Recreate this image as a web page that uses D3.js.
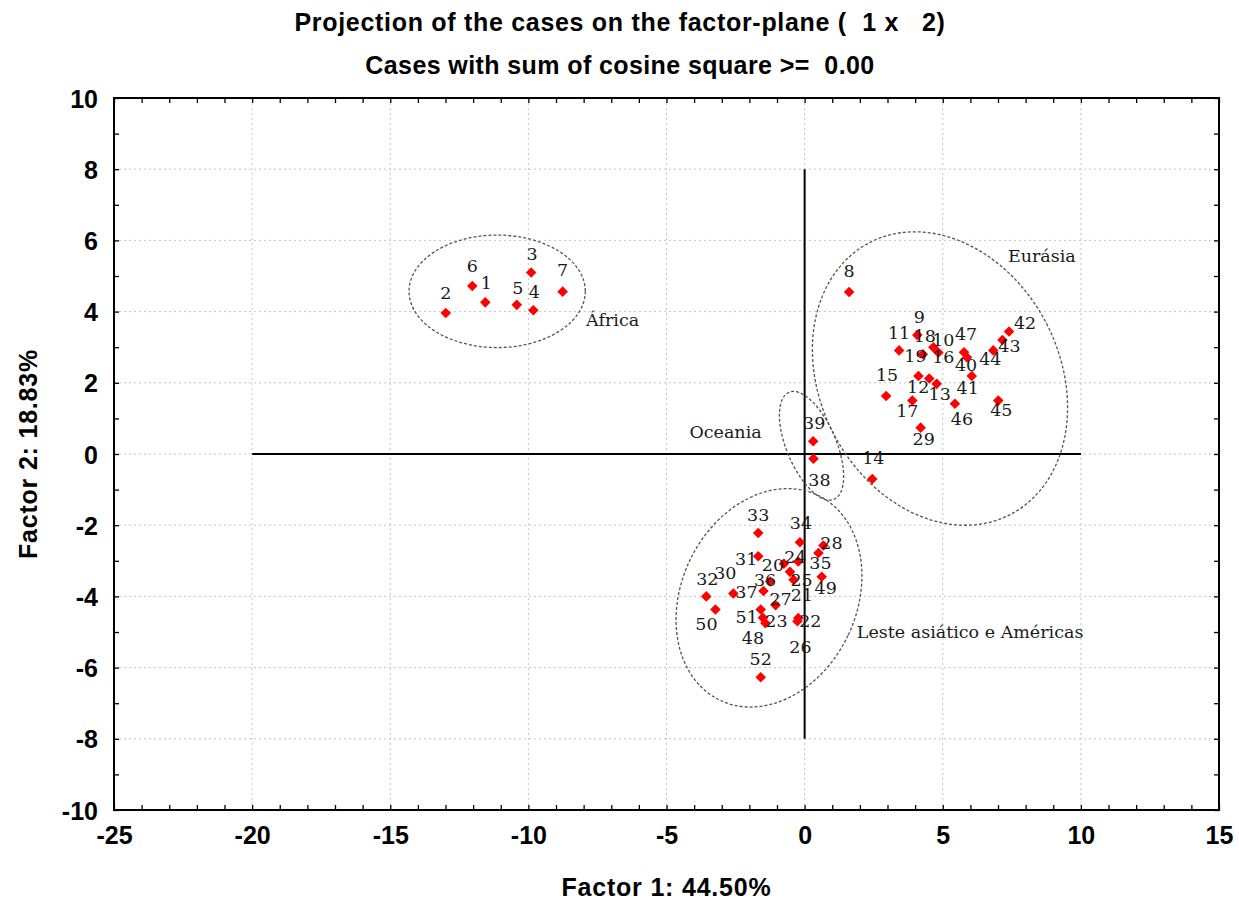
<!DOCTYPE html>
<html>
<head>
<meta charset="utf-8">
<script src="https://cdn.jsdelivr.net/npm/d3@7"></script>
<style>
  html, body { margin: 0; padding: 0; background: #fff; }
  svg { display: block; }
</style>
</head>
<body>
<svg id="chart" width="1239" height="905"></svg>
<script>
// ---------------- DATA ----------------
const titleText = "Projection of the cases on the factor-plane (  1 x   2)";
const subtitleText = "Cases with sum of cosine square >=  0.00";
const xAxisTitle = "Factor 1: 44.50%";
const yAxisTitle = "Factor 2: 18.83%";

const caseIds = d3.range(1, 53);
const factor1 = [
  -11.56, -12.99, -9.90, -9.82, -10.42, -12.03, -8.76,      // 1-7
  1.61, 4.08, 4.66, 3.42, 4.51, 4.78, 2.45, 2.95, 4.84,     // 8-16
  3.90, 4.28, 4.12,                                          // 17-19
  -0.75, -0.53, -0.23, -1.42, -0.23, -0.40, -0.26, -1.05,   // 20-27
  0.68, 4.20, -2.58, -1.68, -3.56, -1.68, -0.17, 0.50,      // 28-35
  -1.25, -1.49, 0.32, 0.31,                                  // 36-39
  5.88, 6.05, 7.40, 7.16, 6.83, 7.01, 5.44, 5.77,           // 40-47
  -1.51, 0.62, -3.23, -1.59, -1.59                           // 48-52
];
const factor2 = [
  4.26, 3.96, 5.10, 4.04, 4.19, 4.72, 4.56,
  4.55, 3.34, 3.00, 2.91, 2.12, 1.97, -0.70, 1.63, 2.85,
  1.50, 2.80, 2.19,
  -3.08, -3.31, -4.61, -4.75, -3.02, -3.53, -4.70, -4.25,
  -2.57, 0.74, -3.92, -2.87, -4.00, -2.22, -2.48, -2.78,
  -3.58, -3.85, -0.13, 0.36,
  2.71, 2.19, 3.44, 3.20, 2.91, 1.50, 1.41, 2.86,
  -4.60, -3.45, -4.37, -4.37, -6.27
];

const xTickLabels = [-25, -20, -15, -10, -5, 0, 5, 10, 15];
const yTickLabels = [-10, -8, -6, -4, -2, 0, 2, 4, 6, 8, 10];

// group annotations (data units)
const groupNames = ["África", "Eurásia", "Oceania", "Leste asiático e Américas"];
const groupCx = [-11.13, 4.90, 0.25, -1.29];
const groupCy = [4.57, 2.12, 0.23, -4.04];
const groupRx = [3.19, 4.34, 0.90, 3.17];
const groupRy = [1.58, 4.30, 1.63, 3.19];
const groupAngle = [0, -27.3, -22.8, 25.5];
const groupLabelX = [-7.91, 7.36, -4.17, 1.89];
const groupLabelY = [3.76, 5.56, 0.62, -4.98];

// ---------------- LAYOUT ----------------
// label offsets (pixels) for each case label, relative to its marker
const labelOffsets = {
  1:[1,-20], 2:[0,-20], 3:[1,-19], 4:[1,-18], 5:[1,-17], 6:[0,-20], 7:[0,-22],
  8:[0,-21], 9:[2,-18], 10:[10,-8], 11:[0,-18], 12:[-11,8], 13:[3,10], 14:[1,-21],
  15:[1,-21], 16:[5,4], 17:[-5,10], 18:[2,-19], 19:[-3,-20],
  20:[-11,1], 21:[12,23], 22:[12,3], 23:[11,-2], 24:[-3,-5], 25:[8,0], 26:[3,25],
  27:[5,-7], 28:[8,-3], 29:[3,11], 30:[-8,-21], 31:[-12,3], 32:[1,-18], 33:[0,-18],
  34:[1,-20], 35:[2,10], 36:[-5,-2], 37:[-17,1], 38:[6,21], 39:[1,-18],
  40:[-1,7], 41:[-4,12], 42:[16,-9], 43:[7,6], 44:[-3,8], 45:[3,9], 46:[7,15], 47:[2,-18],
  48:[-10,20], 49:[4,11], 50:[-9,14], 51:[-14,7], 52:[0,-19]
};

const plot = { left: 114, right: 1219, top: 98, bottom: 810 };
const sansFont = "'Liberation Sans', Arial, sans-serif";
const serifFont = "'DejaVu Serif', serif";
const labelSize = 17.5;

const svg = d3.select("#chart");
const x = d3.scaleLinear().domain([-25, 15]).range([plot.left, plot.right]);
const y = d3.scaleLinear().domain([-10, 10]).range([plot.bottom, plot.top]);

// gridlines (dotted)
const grid = svg.append("g").attr("stroke", "#c4c4c4").attr("stroke-width", 1)
  .attr("stroke-dasharray", "2,3");
grid.selectAll("line.gx").data(xTickLabels.filter(v => v > -25 && v < 15)).join("line")
  .attr("x1", d => x(d)).attr("x2", d => x(d))
  .attr("y1", plot.top).attr("y2", plot.bottom);
grid.selectAll("line.gy").data(yTickLabels.filter(v => v > -10 && v < 10)).join("line")
  .attr("x1", plot.left).attr("x2", plot.right)
  .attr("y1", d => y(d)).attr("y2", d => y(d));

// minor ticks, inward, on all four sides
const xMinor = d3.range(-25, 16);
const yMinor = d3.range(-10, 11);
const tickLen = 5;
function noLabelAxis(axis) { return axis.tickSizeOuter(0).tickFormat(""); }
svg.append("g").attr("transform", `translate(0,${plot.bottom})`)
  .call(noLabelAxis(d3.axisBottom(x).tickValues(xMinor).tickSizeInner(-tickLen)));
svg.append("g").attr("transform", `translate(0,${plot.top})`)
  .call(noLabelAxis(d3.axisTop(x).tickValues(xMinor).tickSizeInner(-tickLen)));
svg.append("g").attr("transform", `translate(${plot.left},0)`)
  .call(noLabelAxis(d3.axisLeft(y).tickValues(yMinor).tickSizeInner(-tickLen)));
svg.append("g").attr("transform", `translate(${plot.right},0)`)
  .call(noLabelAxis(d3.axisRight(y).tickValues(yMinor).tickSizeInner(-tickLen)));
svg.selectAll(".domain").remove();
svg.selectAll(".tick line").attr("stroke", "#000").attr("stroke-width", 1.3);

// tick labels (plain hyphen for negatives, as in the reference)
const fmt = d => String(d);
const xLab = svg.append("g").attr("transform", `translate(0,${plot.bottom + 16})`)
  .call(d3.axisBottom(x).tickValues(xTickLabels).tickSize(0).tickPadding(0).tickFormat(fmt));
xLab.select(".domain").remove();
xLab.selectAll("text").attr("font-family", sansFont).attr("font-weight", "bold")
  .attr("font-size", 25).attr("fill", "#000").attr("dy", "0.71em");

const yLab = svg.append("g").attr("transform", `translate(${plot.left - 16},0)`)
  .call(d3.axisLeft(y).tickValues(yTickLabels).tickSize(0).tickPadding(0).tickFormat(fmt));
yLab.select(".domain").remove();
yLab.selectAll("text").attr("font-family", sansFont).attr("font-weight", "bold")
  .attr("font-size", 25).attr("fill", "#000").attr("dy", "0.36em");

// frame
svg.append("rect").attr("x", plot.left).attr("y", plot.top)
  .attr("width", plot.right - plot.left).attr("height", plot.bottom - plot.top)
  .attr("fill", "none").attr("stroke", "#000").attr("stroke-width", 2);

// factor-plane reference lines
svg.append("line").attr("x1", x(-20)).attr("x2", x(10)).attr("y1", y(0)).attr("y2", y(0))
  .attr("stroke", "#000").attr("stroke-width", 2);
svg.append("line").attr("x1", x(0)).attr("x2", x(0)).attr("y1", y(8)).attr("y2", y(-8))
  .attr("stroke", "#000").attr("stroke-width", 2);

// group ellipses
const unitX = x(1) - x(0), unitY = y(0) - y(1);
svg.append("g").selectAll("ellipse").data(groupNames).join("ellipse")
  .attr("cx", 0).attr("cy", 0)
  .attr("rx", (d, i) => groupRx[i] * unitX)
  .attr("ry", (d, i) => groupRy[i] * unitY)
  .attr("transform", (d, i) => `translate(${x(groupCx[i])},${y(groupCy[i])}) rotate(${groupAngle[i]})`)
  .attr("fill", "none").attr("stroke", "#555").attr("stroke-width", 1.3)
  .attr("stroke-dasharray", "3,2");

// group labels
svg.append("g").selectAll("text").data(groupNames).join("text")
  .attr("x", (d, i) => x(groupLabelX[i]))
  .attr("y", (d, i) => y(groupLabelY[i]))
  .attr("dy", "0.36em")
  .attr("font-family", serifFont).attr("font-size", labelSize).attr("fill", "#1a1a1a")
  .text(d => d);

// points
const cases = caseIds.map((id, i) => ({ id, f1: factor1[i], f2: factor2[i] }));
const diamond = d3.symbol().type(d3.symbolSquare).size(56);
svg.append("g").selectAll("path").data(cases).join("path")
  .attr("d", diamond)
  .attr("transform", d => `translate(${x(d.f1)},${y(d.f2)}) rotate(45)`)
  .attr("fill", "#ff0000");

// case labels
svg.append("g").selectAll("text").data(cases).join("text")
  .attr("x", d => x(d.f1) + labelOffsets[d.id][0])
  .attr("y", d => y(d.f2) + labelOffsets[d.id][1])
  .attr("dy", "0.36em")
  .attr("text-anchor", "middle")
  .attr("font-family", serifFont).attr("font-size", labelSize).attr("fill", "#1a1a1a")
  .text(d => d.id);

// titles
svg.append("text").attr("x", 620).attr("y", 22).attr("dy", "0.36em")
  .attr("text-anchor", "middle").attr("font-family", sansFont).attr("font-weight", "bold")
  .attr("font-size", 25).attr("letter-spacing", 0.7).attr("fill", "#000")
  .style("white-space", "pre").text(titleText);
svg.append("text").attr("x", 620).attr("y", 65).attr("dy", "0.36em")
  .attr("text-anchor", "middle").attr("font-family", sansFont).attr("font-weight", "bold")
  .attr("font-size", 25).attr("letter-spacing", 0.4).attr("fill", "#000")
  .style("white-space", "pre").text(subtitleText);

// axis titles
svg.append("text").attr("x", (plot.left + plot.right) / 2).attr("y", 887).attr("dy", "0.36em")
  .attr("text-anchor", "middle").attr("font-family", sansFont).attr("font-weight", "bold")
  .attr("font-size", 25).attr("letter-spacing", 0.8).attr("fill", "#000").text(xAxisTitle);
svg.append("text").attr("transform", `translate(28,${(plot.top + plot.bottom) / 2}) rotate(-90)`)
  .attr("dy", "0.36em")
  .attr("text-anchor", "middle").attr("font-family", sansFont).attr("font-weight", "bold")
  .attr("font-size", 25).attr("letter-spacing", 0.8).attr("fill", "#000").text(yAxisTitle);
</script>
</body>
</html>
